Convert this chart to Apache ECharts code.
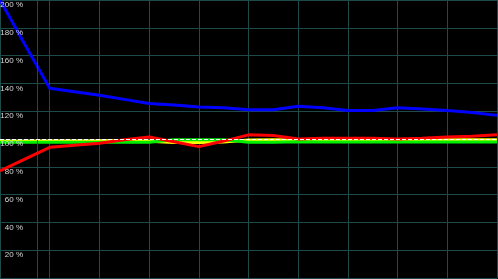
<!DOCTYPE html>
<html><head><meta charset="utf-8">
<script src="https://cdn.jsdelivr.net/npm/echarts@6/dist/echarts.min.js"></script>
<style>html,body{margin:0;padding:0;background:#000}#c{width:498px;height:279px}</style>
</head><body><div id="c"></div>
<script>
var xIndex = [0,1,2,3,4,5,6,7,8,9,10,11,12,13,14,15,16,17,18,19,20];
var blue   = [200,168,136.5,134,131.5,128.5,125.5,124.5,123,122.5,121,121,123.5,122.5,120.5,120.5,122.5,121.5,120.5,119,117];
var red    = [77,85.5,94,95.5,97,99.5,101.5,98,94.5,98.5,103,102.5,100,100.5,100.5,100.5,100,100.5,101.5,102,103];
var green  = [97.7,97.7,97.7,97.7,97.7,97.7,97.7,99.5,99.5,99.5,97.7,97.7,98,97.8,97.8,97.8,97.8,97.8,97.8,97.8,97.8];
var yellow = [98.3,98.3,98.5,98.6,98.7,99,98.4,97.5,97.5,97.8,99.3,99.5,99.2,99.3,99.4,99.4,99.4,99.5,99.5,99.5,99.5];
var yTicks = [0,20,40,60,80,100,120,140,160,180,200];

function pairs(arr){ return arr.map(function(v,i){ return [xIndex[i], v]; }); }
var gridColor = '#1e4a4a';
var yMin = yTicks[0], yMax = yTicks[yTicks.length-1];
var chart = echarts.init(document.getElementById('c'));
chart.setOption({
  backgroundColor: '#000',
  animation: false,
  grid: {left: 0, right: 1, top: 0, bottom: 1, containLabel: false, outerBoundsMode: 'none'},
  xAxis: {type: 'value', min: 0, max: 20, interval: 2,
    axisLine: {show: false}, axisTick: {show: false}, axisLabel: {show: false},
    splitLine: {show: true, lineStyle: {color: gridColor, width: 1}}},
  yAxis: [
    {type: 'value', min: yMin, max: yMax, interval: 20,
      axisLine: {show: false}, axisTick: {show: false}, axisLabel: {show: false},
      splitLine: {show: true, lineStyle: {color: gridColor, width: 1}}},
    {type: 'value', min: yMin, max: yMax, interval: 20, position: 'left', offset: 0, z: 20,
      axisLine: {show: false}, axisTick: {show: false}, splitLine: {show: false},
      axisLabel: {inside: true, showMinLabel: false, align: 'right', margin: 23,
        verticalAlign: 'top', padding: [1,0,0,0],
        color: '#d8d8d8', fontSize: 8, fontFamily: 'Liberation Sans',
        formatter: function(v){ return v + ' %'; }}}
  ],
  series: [
    {type: 'line', data: pairs(blue), symbol: 'none', lineStyle: {color: '#0000ff', width: 3}, z: 2,
      markLine: {silent: true, symbol: 'none', label: {show: false},
        lineStyle: {color: gridColor, width: 1, type: 'solid'}, data: [{xAxis: 1.5}]}},
    {type: 'line', data: pairs(yellow), symbol: 'none', lineStyle: {color: '#ffff00', width: 3}, z: 3},
    {type: 'line', data: pairs(green), symbol: 'none', lineStyle: {color: '#00ee00', width: 3}, z: 4},
    {type: 'line', data: pairs(red), symbol: 'none', lineStyle: {color: '#ff0000', width: 3}, z: 5,
      markLine: {silent: true, symbol: 'none', label: {show: false}, z: 10,
        lineStyle: {color: '#ffffff', width: 1, type: [4,2]}, data: [{yAxis: 100}]}}
  ]
});
</script></body></html>
